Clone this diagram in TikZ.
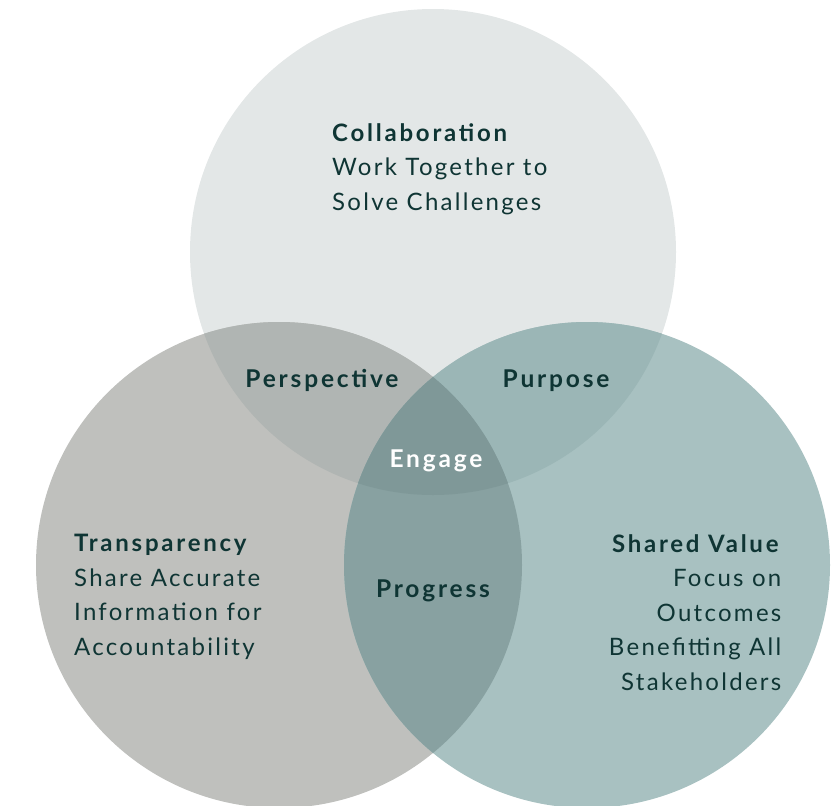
\documentclass[tikz,border=0pt]{standalone}
\usepackage{fontspec}
\setmainfont{Lato}[LetterSpace=9.5, BoldFeatures={LetterSpace=11.5}]
\definecolor{ink}{HTML}{0F3534}
\definecolor{topc}{HTML}{E3E7E7}
\definecolor{lftc}{HTML}{BFC0BD}
\definecolor{rgtc}{HTML}{A8C1C1}
\definecolor{tlc}{HTML}{B0B5B3}
\definecolor{trc}{HTML}{9BB6B6}
\definecolor{lrc}{HTML}{88A1A1}
\definecolor{allc}{HTML}{7F9898}
\tikzset{
  label/.style={font=\bfseries\fontsize{24.5}{34.5}\selectfont, text=ink, inner sep=0pt},
  blurb/.style={font=\fontsize{24}{34.5}\selectfont, text=ink, inner sep=0pt},
}
\begin{document}
\begin{tikzpicture}[x=1pt,y=-1pt]
\useasboundingbox (0,0) rectangle (836,806);
\clip (0,0) rectangle (836,806);

\def\rad{243pt}
\coordinate (top) at (433,252);
\coordinate (lft) at (279,565);
\coordinate (rgt) at (587,565);

% the three circles
\fill[topc] (top) circle (\rad);
\fill[lftc] (lft) circle (\rad);
\fill[rgtc] (rgt) circle (\rad);

% overlaps
\foreach \a/\b/\c in {top/lft/tlc, top/rgt/trc, lft/rgt/lrc}
{
  \begin{scope}
    \clip (\a) circle (\rad);
    \fill[\c] (\b) circle (\rad);
  \end{scope}
}
\begin{scope}
  \clip (top) circle (\rad);
  \clip (lft) circle (\rad);
  \fill[allc] (rgt) circle (\rad);
\end{scope}

% texts
\node[blurb, anchor=north west, align=left] (collab) at (332,123)
  {\textbf{Collaboration}\\Work Together to\\Solve Challenges};
\node[blurb, anchor=north west, align=left] (transp) at (74,534)
  {\textbf{Transparency}\\Share Accurate\\Information for\\Accountability};
\node[blurb, anchor=north east, align=right] (shared) at (781.5,534)
  {\textbf{Shared Value}\\Focus on\\Outcomes\\Benefitting All\\Stakeholders};

\node[label, anchor=base] (persp) at (322,387) {Perspective};
\node[label, anchor=base] (purp) at (556,387) {Purpose};
\node[label, anchor=base, text=white] (engage) at (436,467) {Engage};
\node[label, anchor=base] (progr) at (433,597) {Progress};

\end{tikzpicture}
\end{document}
